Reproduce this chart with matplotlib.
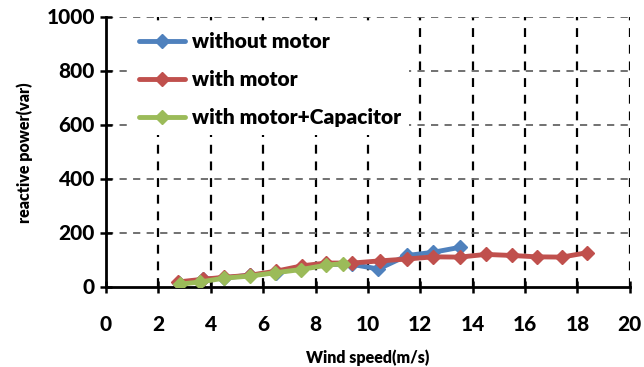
import matplotlib
matplotlib.use("Agg")
import matplotlib.pyplot as plt
from matplotlib.transforms import offset_copy

wind_without = [2.8, 3.7, 4.5, 5.5, 6.5, 7.5, 8.4, 9.4, 10.4, 11.5, 12.5, 13.5]
q_without = [15, 30, 35, 45, 55, 72, 85, 85, 68, 118, 130, 148]

wind_with = [2.75, 3.7, 4.5, 5.5, 6.5, 7.5, 8.4, 9.4, 10.45, 11.5, 12.5, 13.5, 14.5, 15.5, 16.45, 17.4, 18.35]
q_with = [20, 30, 37, 45, 60, 80, 90, 90, 98, 105, 113, 112, 122, 118, 113, 112, 128]

wind_cap = [2.82, 3.6, 4.5, 5.5, 6.45, 7.45, 8.4, 9.05]
q_cap = [12, 20, 34, 42, 54, 66, 82, 88]

xticks = list(range(0, 21, 2))
yticks = list(range(0, 1001, 200))

plt.rcParams['font.family'] = ['Lato', 'DejaVu Sans']
plt.rcParams['font.weight'] = 800
plt.rcParams['axes.labelweight'] = 800

fig = plt.figure(figsize=(6.44, 3.67), dpi=100)
ax = fig.add_axes([0.1646, 0.217, 0.8134, 0.736])

colors = ['#4F81BD', '#C0504D', '#9BBB59']
series = [(wind_without, q_without, 'without motor'),
          (wind_with, q_with, 'with motor'),
          (wind_cap, q_cap, 'with motor+Capacitor')]
for (x, y, lab), c in zip(series, colors):
    ax.plot(x, y, color=c, lw=3.5, marker='D', ms=7, mec=c, mfc=c,
            label=lab, solid_capstyle='round', zorder=3)

ax.set_xlim(0, 20)
ax.set_ylim(0, 1000)
ax.set_xticks(xticks)
ax.set_yticks(yticks)
ax.tick_params(direction='inout', length=9, width=1.8, labelbottom=False, labelleft=False)

xt = offset_copy(ax.get_xaxis_transform(), fig=fig, x=0, y=-20, units='points')
for v in xticks:
    ax.text(v, 0, str(v), transform=xt, ha='center', va='top',
            fontsize=15, fontweight=900, family='Lato', clip_on=False)
yt = offset_copy(ax.get_yaxis_transform(), fig=fig, x=-8, y=0, units='points')
for v in yticks:
    ax.text(0, v, str(v), transform=yt, ha='right', va='center',
            fontsize=15, fontweight=900, family='Lato', clip_on=False)

for x in xticks[1:]:
    ax.axvline(x, color='black', lw=1.6, ls=(0, (4, 3.5)), zorder=1)
for y in yticks[1:]:
    ax.axhline(y, color='#666666', lw=1.3, ls=(0, (4, 3.5)), zorder=1)

for s in ['top', 'right']:
    ax.spines[s].set_visible(False)
for s in ['left', 'bottom']:
    ax.spines[s].set_linewidth(2)

ax.set_xlabel('Wind speed(m/s)', fontsize=11.5, fontweight=800, labelpad=40)
ax.set_ylabel('reactive power(var)', fontsize=11.5, fontweight=800, labelpad=48)

leg = ax.legend(loc='upper left', bbox_to_anchor=(0.04, 0.99),
                prop={'family': ['Lato', 'DejaVu Sans'], 'weight': 800, 'size': 15},
                frameon=True, handlelength=2.2, labelspacing=0.9, handletextpad=0.3,
                borderaxespad=0.2)
leg.get_frame().set_edgecolor('none')
leg.get_frame().set_facecolor('white')
leg.get_frame().set_alpha(1)
leg.set_zorder(5)

fig.savefig('out.png', dpi=100)
